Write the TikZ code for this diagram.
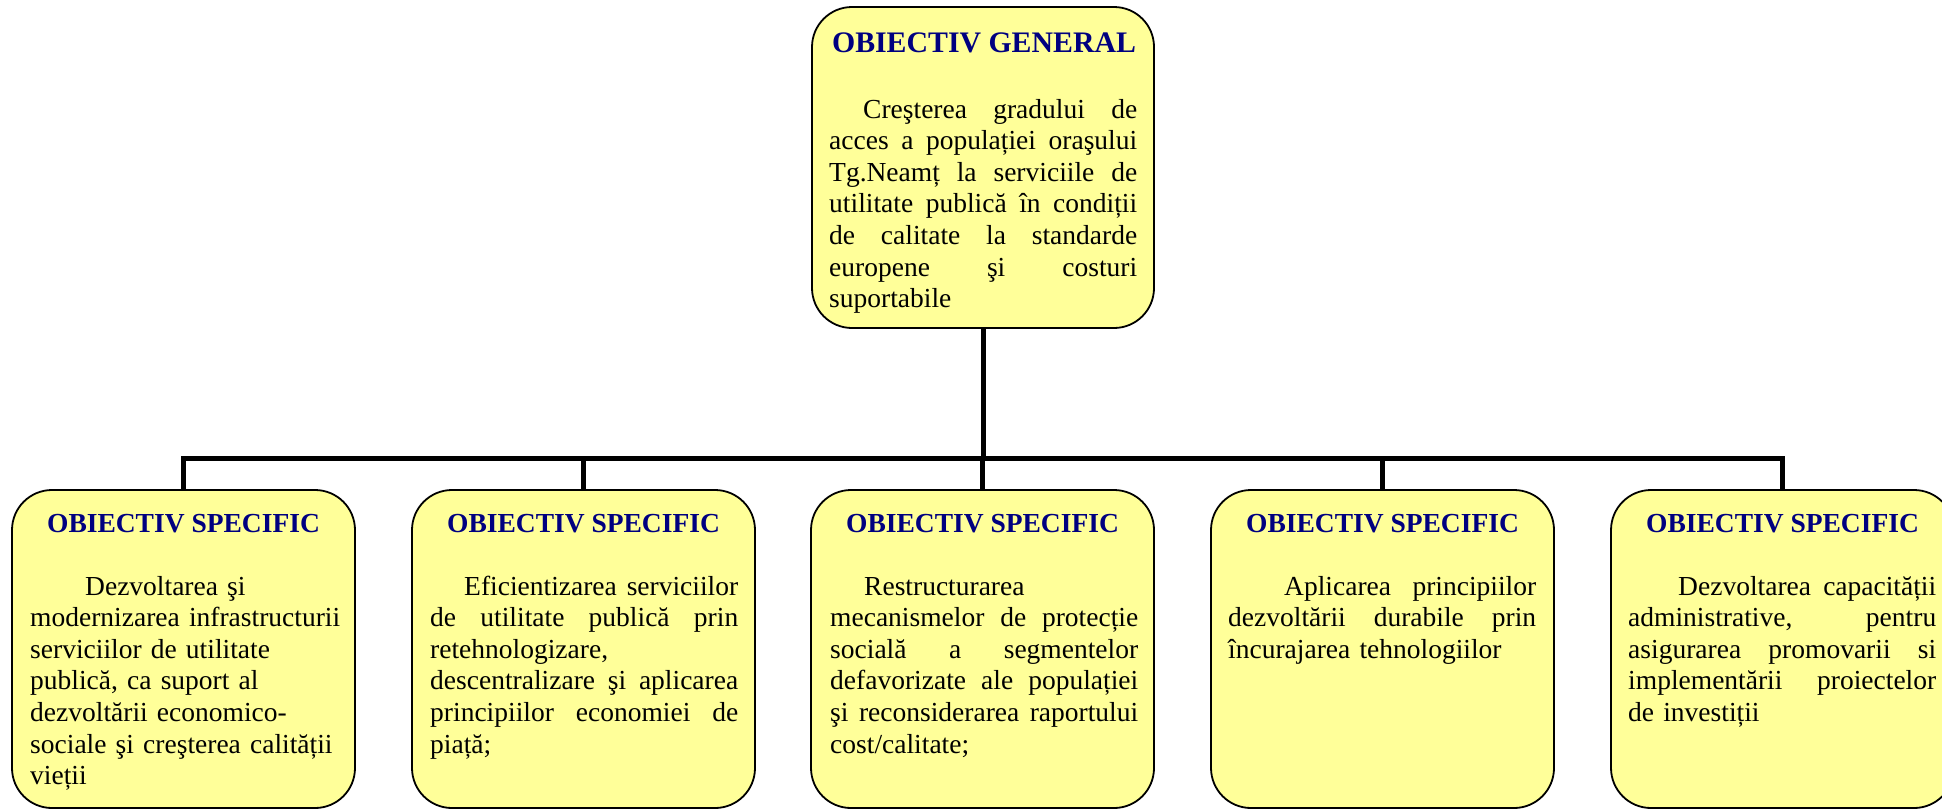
\documentclass[tikz,border=0pt]{standalone}
\usepackage{fontspec}
\setmainfont{Liberation Serif}
\definecolor{boxfill}{RGB}{255,255,153}
\definecolor{navytitle}{RGB}{0,0,128}
\newcommand{\lineJ}[1]{{\spaceskip=0.25em plus 1fil\relax\hbox to 308pt{#1}}\par}
\newcommand{\lineR}[1]{\hbox{#1}\par}
\tikzset{
  obox/.style={draw=black, line width=1.8pt, fill=boxfill, rounded corners=40pt, inner sep=0pt, minimum width=343pt},
  ttl/.style={anchor=base, inner sep=0pt, text=navytitle},
  bodytext/.style={anchor=base west, inner sep=0pt, text width=308pt, align=left, font=\fontsize{27.5}{31.6}\selectfont},
  link/.style={line width=5pt, black}
}
\begin{document}
\begin{tikzpicture}[x=1pt, y=-1pt]
\useasboundingbox (0,0) rectangle (1942,809);
% top box
\node[obox, minimum width=342pt, minimum height=321pt] (top) at (983,167.5) {};
\node[ttl, font=\fontsize{29.8}{33}\selectfont\bfseries] (toptitle) at (984,52) {OBIECTIV GENERAL};
\node[bodytext] (toptext) at (829,118) {%
\lineJ{\hspace*{34pt}Creşterea gradului de}
\lineJ{acces a populației oraşului}
\lineJ{Tg.Neamț la serviciile de}
\lineJ{utilitate publică în condiții}
\lineJ{de calitate la standarde}
\lineJ{europene şi costuri}
\lineR{suportabile}};
% bottom boxes
\foreach \i/\cx in {1/183.5, 2/583.5, 3/982.5, 4/1382.5, 5/1782.5}{
  \node[obox, minimum height=318pt] (b\i) at (\cx,649) {};
  \node[ttl, font=\fontsize{27.5}{31}\selectfont\bfseries] (bt\i) at (\cx,532) {OBIECTIV SPECIFIC};
}
\node[bodytext] (tx1) at (30,595) {%
\lineR{\hspace*{55pt}Dezvoltarea şi}
\lineR{modernizarea infrastructurii}
\lineR{serviciilor de utilitate}
\lineR{publică, ca suport al}
\lineR{dezvoltării economico-}
\lineR{sociale şi creşterea calității}
\lineR{vieții}};
\node[bodytext] (tx2) at (430,595) {%
\lineJ{\hspace*{34pt}Eficientizarea serviciilor}
\lineJ{de utilitate publică prin}
\lineR{retehnologizare,}
\lineJ{descentralizare şi aplicarea}
\lineJ{principiilor economiei de}
\lineR{piață;}};
\node[bodytext] (tx3) at (830,595) {%
\lineR{\hspace*{34pt}Restructurarea}
\lineJ{mecanismelor de protecție}
\lineJ{socială a segmentelor}
\lineJ{defavorizate ale populației}
\lineJ{şi reconsiderarea raportului}
\lineR{cost/calitate;}};
\node[bodytext] (tx4) at (1228,595) {%
\lineJ{\hspace*{56pt}Aplicarea principiilor}
\lineJ{dezvoltării durabile prin}
\lineR{încurajarea tehnologiilor}};
\node[bodytext] (tx5) at (1628,595) {%
\lineJ{\hspace*{50pt}Dezvoltarea capacității}
\lineJ{administrative, pentru}
\lineJ{asigurarea promovarii si}
\lineJ{implementării proiectelor}
\lineR{de investiții}};
% connectors
\coordinate (bus) at (983,458);
\draw[link] (top.south) -- (bus);
\foreach \i in {1,...,5}{
  \draw[link] (bus) -| (b\i.north);
}
\end{tikzpicture}
\end{document}
